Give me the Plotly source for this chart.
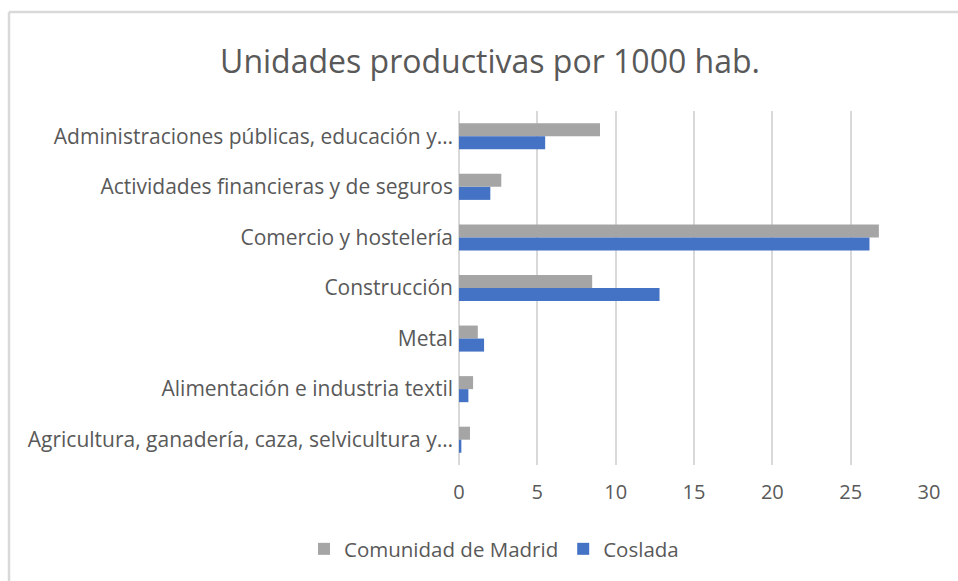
import plotly.graph_objects as go

# Sectors, listed top to bottom as shown on the chart
sectores = [
    "Administraciones públicas, educación y…",
    "Actividades financieras y de seguros",
    "Comercio y hostelería",
    "Construcción",
    "Metal",
    "Alimentación e industria textil",
    "Agricultura, ganadería, caza, selvicultura y…",
]

# Productive units per 1000 inhabitants
comunidad_madrid = [9.0, 2.7, 26.8, 8.5, 1.2, 0.9, 0.7]
coslada = [5.5, 2.0, 26.2, 12.8, 1.6, 0.6, 0.15]

x_ticks = [0, 5, 10, 15, 20, 25, 30]

W, H = 958, 581
ML, MR, MT, MB = 459, 29, 111, 116
pw, ph = W - ML - MR, H - MT - MB

def px_x(p):
    return (p - ML) / pw

def px_y(p):
    return (H - MB - p) / ph

TXT = "#595959"
FONT = "Open Sans"

fig = go.Figure()
fig.add_trace(go.Bar(
    y=sectores, x=comunidad_madrid, orientation="h",
    name="Comunidad de Madrid", marker=dict(color="#A5A5A5", line=dict(width=0)),
))
fig.add_trace(go.Bar(
    y=sectores, x=coslada, orientation="h",
    name="Coslada", marker=dict(color="#4472C4", line=dict(width=0)),
))

# Light frame around the chart area
frame = dict(type="line", xref="paper", yref="paper",
             line=dict(color="#D9D9D9", width=2.5), layer="below")
fig.add_shape(**frame, x0=px_x(9), x1=px_x(W + 5), y0=px_y(12), y1=px_y(12))
fig.add_shape(**frame, x0=px_x(9), x1=px_x(9), y0=px_y(12), y1=px_y(H + 5))

fig.update_layout(
    width=W, height=H,
    margin=dict(l=ML, r=MR, t=MT, b=MB),
    paper_bgcolor="white", plot_bgcolor="white",
    barmode="group", bargap=0.485, bargroupgap=0,
    font=dict(family=FONT, color=TXT),
    title=dict(
        text="Unidades productivas por 1000 hab.",
        x=490 / W, xanchor="center", xref="container",
        y=1 - 62 / H, yanchor="middle", yref="container",
        font=dict(family=FONT, size=32, color=TXT),
    ),
    xaxis=dict(
        range=[0, 30], tickvals=x_ticks, ticktext=[str(v) for v in x_ticks],
        showgrid=True, gridcolor="#D9D9D9", gridwidth=1.5,
        zeroline=True, zerolinecolor="#D9D9D9", zerolinewidth=1.5,
        showline=False, ticks="", ticklen=0,
        ticklabelstandoff=13,
        tickfont=dict(family=FONT, size=20, color=TXT),
    ),
    yaxis=dict(
        autorange="reversed", type="category",
        showgrid=False, showline=False, ticks="",
        ticklabelstandoff=5,
        tickfont=dict(family=FONT, size=21, color=TXT),
    ),
    legend=dict(
        orientation="h", x=494 / W, xref="container", xanchor="center",
        y=1 - 549 / H, yref="container", yanchor="middle",
        font=dict(family=FONT, size=20.5, color=TXT),
        itemwidth=30, traceorder="normal",
    ),
    showlegend=True,
)

fig.write_html("out.html")
